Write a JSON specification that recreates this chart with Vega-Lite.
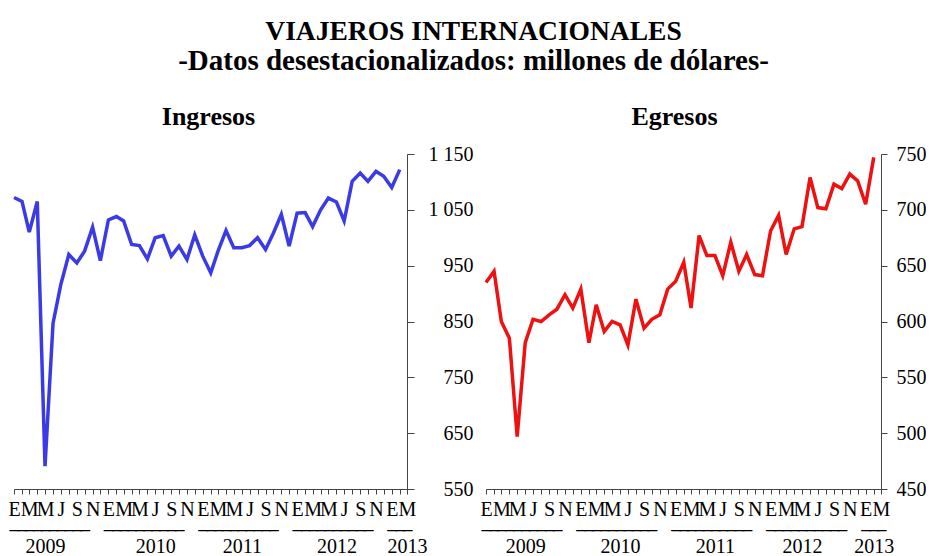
{
  "$schema": "https://vega.github.io/schema/vega-lite/v6.json",
  "padding": {"left": 7, "top": 17, "right": 0, "bottom": 0},
  "background": "white",
  "title": {
    "text": "VIAJEROS INTERNACIONALES",
    "subtitle": "-Datos desestacionalizados: millones de dólares-",
    "font": "Liberation Serif",
    "fontSize": 27.5,
    "fontWeight": "bold",
    "color": "black",
    "subtitleFont": "Liberation Serif",
    "subtitleFontSize": 29,
    "subtitleFontWeight": "bold",
    "subtitleColor": "black",
    "subtitlePadding": 2,
    "anchor": "middle",
    "dx": 7,
    "offset": 28
  },
  "data": {
    "values": [
      {"d": "2009-01-01", "i": 1072, "e": 635},
      {"d": "2009-02-01", "i": 1065, "e": 645},
      {"d": "2009-03-01", "i": 1010, "e": 600},
      {"d": "2009-04-01", "i": 1065, "e": 585},
      {"d": "2009-05-01", "i": 591, "e": 497},
      {"d": "2009-06-01", "i": 847, "e": 581},
      {"d": "2009-07-01", "i": 916, "e": 602},
      {"d": "2009-08-01", "i": 970, "e": 600},
      {"d": "2009-09-01", "i": 955, "e": 606},
      {"d": "2009-10-01", "i": 976, "e": 611},
      {"d": "2009-11-01", "i": 1019, "e": 624},
      {"d": "2009-12-01", "i": 959, "e": 612},
      {"d": "2010-01-01", "i": 1032, "e": 629},
      {"d": "2010-02-01", "i": 1038, "e": 581},
      {"d": "2010-03-01", "i": 1030, "e": 615},
      {"d": "2010-04-01", "i": 988, "e": 591},
      {"d": "2010-05-01", "i": 986, "e": 600},
      {"d": "2010-06-01", "i": 962, "e": 597},
      {"d": "2010-07-01", "i": 1000, "e": 579},
      {"d": "2010-08-01", "i": 1004, "e": 620},
      {"d": "2010-09-01", "i": 967, "e": 594},
      {"d": "2010-10-01", "i": 985, "e": 602},
      {"d": "2010-11-01", "i": 961, "e": 606},
      {"d": "2010-12-01", "i": 1005, "e": 629},
      {"d": "2011-01-01", "i": 967, "e": 636},
      {"d": "2011-02-01", "i": 937, "e": 653},
      {"d": "2011-03-01", "i": 976, "e": 612},
      {"d": "2011-04-01", "i": 1013, "e": 677},
      {"d": "2011-05-01", "i": 982, "e": 659},
      {"d": "2011-06-01", "i": 982, "e": 659},
      {"d": "2011-07-01", "i": 986, "e": 641},
      {"d": "2011-08-01", "i": 1000, "e": 671},
      {"d": "2011-09-01", "i": 979, "e": 645},
      {"d": "2011-10-01", "i": 1008, "e": 660},
      {"d": "2011-11-01", "i": 1042, "e": 642},
      {"d": "2011-12-01", "i": 985, "e": 641},
      {"d": "2012-01-01", "i": 1044, "e": 681},
      {"d": "2012-02-01", "i": 1045, "e": 695},
      {"d": "2012-03-01", "i": 1020, "e": 660},
      {"d": "2012-04-01", "i": 1050, "e": 683},
      {"d": "2012-05-01", "i": 1071, "e": 685},
      {"d": "2012-06-01", "i": 1064, "e": 729},
      {"d": "2012-07-01", "i": 1030, "e": 702},
      {"d": "2012-08-01", "i": 1101, "e": 701},
      {"d": "2012-09-01", "i": 1116, "e": 723},
      {"d": "2012-10-01", "i": 1101, "e": 719},
      {"d": "2012-11-01", "i": 1119, "e": 732},
      {"d": "2012-12-01", "i": 1110, "e": 726},
      {"d": "2013-01-01", "i": 1090, "e": 705},
      {"d": "2013-02-01", "i": 1122, "e": 747}
    ]
  },
  "spacing": 6,
  "hconcat": [
    {
      "title": {"text": "Ingresos", "font": "Liberation Serif", "fontSize": 26, "fontWeight": "bold", "color": "black", "anchor": "middle", "offset": 14, "dx": -2},
      "width": 393,
      "height": 335,
      "resolve": {"axis": {"x": "independent"}},
      "layer": [
        {
          "mark": {"type": "line", "color": "#3a3ae6", "strokeWidth": 3.5},
          "encoding": {
            "x": {
              "field": "d", "type": "temporal", "title": null,
              "scale": {"type": "utc", "domain": [{"year": 2009, "month": 1, "date": 1, "utc": true}, {"year": 2013, "month": 3, "date": 1, "utc": true}]},
              "axis": {
                "orient": "bottom", "grid": false,
                "tickCount": {"interval": "month", "step": 1},
                "labelExpr": "utcmonth(datum.value)%2==0 ? ['E','M','M','J','S','N'][utcmonth(datum.value)/2] : ''",
                "labelOverlap": false, "labelFlush": false, "labelBound": false,
                "labelAlign": "center", "labelBaseline": "top",
                "labelPadding": 5, "tickSize": 5,
                "labelFont": "Liberation Serif", "labelFontSize": 20, "labelColor": "black",
                "domainColor": "#444", "tickColor": "#444"
              }
            },
            "y": {
              "field": "i", "type": "quantitative", "title": null,
              "scale": {"domain": [550, 1150], "nice": false, "zero": false},
              "axis": {
                "orient": "right", "grid": false,
                "values": [550, 650, 750, 850, 950, 1050, 1150],
                "labelExpr": "replace(format(datum.value, ','), ',', '\u00a0')",
                "labelAlign": "right", "labelPadding": 59, "tickSize": 7,
                "labelFont": "Liberation Serif", "labelFontSize": 20, "labelColor": "black",
                "domainColor": "#444", "tickColor": "#444"
              }
            }
          }
        },
        {
          "mark": {"type": "rule", "strokeOpacity": 0},
          "encoding": {
            "x": {
              "field": "d", "type": "temporal", "title": null,
              "axis": {
                "orient": "bottom", "grid": false, "domain": false, "ticks": false, "offset": 22,
                "tickCount": {"interval": "month", "step": 1},
                "labelExpr": "[(utcmonth(datum.value)<=9 ? '_' : '\u00a0'), (utcmonth(datum.value)==(utcyear(datum.value)==2009 ? 4 : (utcyear(datum.value)==2010 ? 6 : (utcyear(datum.value)==2013 ? 2 : 5))) ? ''+utcyear(datum.value) : '\u00a0')]",
                "labelOverlap": false, "labelFlush": false, "labelBound": false,
                "labelAlign": "center", "labelBaseline": "top", "labelLineHeight": 25,
                "labelPadding": 0,
                "labelFont": "Liberation Serif", "labelFontSize": 20, "labelColor": "black"
              }
            }
          }
        }
      ]
    },
    {
      "title": {"text": "Egresos", "font": "Liberation Serif", "fontSize": 26, "fontWeight": "bold", "color": "black", "anchor": "middle", "offset": 14, "dx": -9},
      "width": 395,
      "height": 335,
      "resolve": {"axis": {"x": "independent"}},
      "layer": [
        {
          "mark": {"type": "line", "color": "#ee1111", "strokeWidth": 3.5},
          "encoding": {
            "x": {
              "field": "d", "type": "temporal", "title": null,
              "scale": {"type": "utc", "domain": [{"year": 2009, "month": 1, "date": 1, "utc": true}, {"year": 2013, "month": 3, "date": 1, "utc": true}]},
              "axis": {
                "orient": "bottom", "grid": false,
                "tickCount": {"interval": "month", "step": 1},
                "labelExpr": "utcmonth(datum.value)%2==0 ? ['E','M','M','J','S','N'][utcmonth(datum.value)/2] : ''",
                "labelOverlap": false, "labelFlush": false, "labelBound": false,
                "labelAlign": "center", "labelBaseline": "top",
                "labelPadding": 5, "tickSize": 5,
                "labelFont": "Liberation Serif", "labelFontSize": 20, "labelColor": "black",
                "domainColor": "#444", "tickColor": "#444"
              }
            },
            "y": {
              "field": "e", "type": "quantitative", "title": null,
              "scale": {"domain": [450, 750], "nice": false, "zero": false},
              "axis": {
                "orient": "right", "grid": false,
                "values": [450, 500, 550, 600, 650, 700, 750],
                "labelAlign": "left", "labelPadding": 9, "tickSize": 6,
                "labelFont": "Liberation Serif", "labelFontSize": 20, "labelColor": "black",
                "domainColor": "#444", "tickColor": "#444"
              }
            }
          }
        },
        {
          "mark": {"type": "rule", "strokeOpacity": 0},
          "encoding": {
            "x": {
              "field": "d", "type": "temporal", "title": null,
              "axis": {
                "orient": "bottom", "grid": false, "domain": false, "ticks": false, "offset": 22,
                "tickCount": {"interval": "month", "step": 1},
                "labelExpr": "[(utcmonth(datum.value)<=9 ? '_' : '\u00a0'), (utcmonth(datum.value)==(utcyear(datum.value)==2012 ? 4 : (utcyear(datum.value)==2013 ? 1 : 5)) ? ''+utcyear(datum.value) : '\u00a0')]",
                "labelOverlap": false, "labelFlush": false, "labelBound": false,
                "labelAlign": "center", "labelBaseline": "top", "labelLineHeight": 25,
                "labelPadding": 0,
                "labelFont": "Liberation Serif", "labelFontSize": 20, "labelColor": "black"
              }
            }
          }
        }
      ]
    }
  ],
  "config": {"view": {"stroke": null}, "font": "Liberation Serif"}
}
